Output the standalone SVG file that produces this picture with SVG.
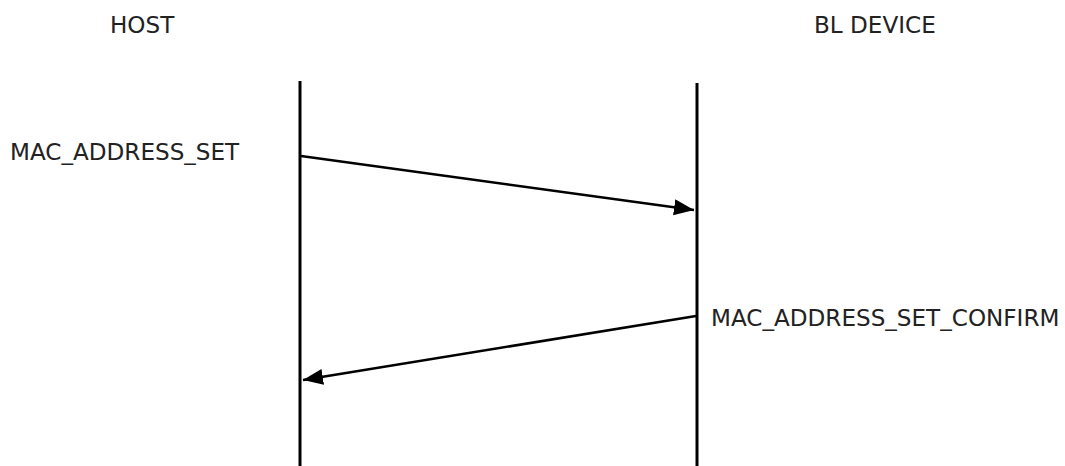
<svg xmlns="http://www.w3.org/2000/svg" width="1065" height="466" viewBox="0 0 1065 466">
<style>
text{font-family:"DejaVu Sans",sans-serif;font-size:23.1px;fill:#222}
.life{stroke:#000;stroke-width:3}
.msg{stroke:#000;stroke-width:2.5;fill:none}
</style>
<defs>
<marker id="ah" markerUnits="userSpaceOnUse" markerWidth="22" markerHeight="18" refX="20" refY="8" orient="auto">
<path d="M0,0 L20,8 L0,16 Z" fill="#000"/>
</marker>
</defs>
<rect width="1065" height="466" fill="#fff"/>
<g id="host">
<text x="110" y="33">HOST</text>
<line class="life" x1="300" y1="81" x2="300" y2="466"/>
</g>
<g id="device">
<text x="814" y="33">BL DEVICE</text>
<line class="life" x1="697" y1="83" x2="697" y2="466"/>
</g>
<g id="labels">
<text x="10" y="160">MAC_ADDRESS_SET</text>
<text x="711" y="326">MAC_ADDRESS_SET_CONFIRM</text>
</g>
<g id="connectors">
<line class="msg" x1="301" y1="156" x2="694" y2="210" marker-end="url(#ah)"/>
<line class="msg" x1="696" y1="316" x2="303" y2="380" marker-end="url(#ah)"/>
</g>
</svg>
